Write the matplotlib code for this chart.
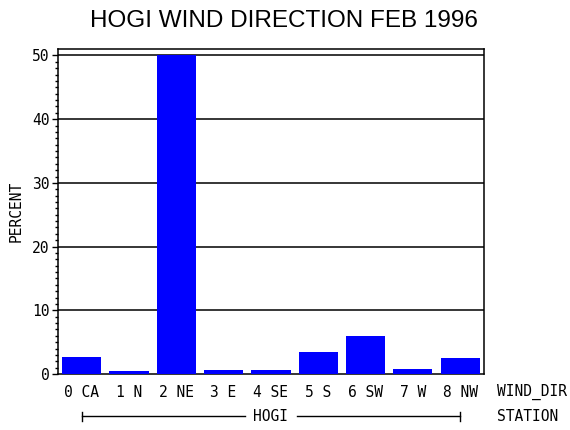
import numpy as np
import matplotlib
matplotlib.use("Agg")
import matplotlib.pyplot as plt
import matplotlib.transforms as mtransforms

directions = ["0 CA", "1 N", "2 NE", "3 E", "4 SE", "5 S", "6 SW", "7 W", "8 NW"]
percent = [2.7, 0.5, 50.0, 0.6, 0.6, 3.5, 5.9, 0.8, 2.5]
station = "HOGI"
title = "HOGI WIND DIRECTION FEB 1996"

mono = "DejaVu Sans Mono"

fig = plt.figure(figsize=(5.7, 4.3), dpi=100)
ax = fig.add_axes([0.1018, 0.130, 0.747, 0.756])

x = np.arange(len(directions))
ax.bar(x, percent, width=0.83, color="#0000ff", zorder=3)

for y in [10, 20, 30, 40, 50]:
    ax.axhline(y, color="black", linewidth=1.1, zorder=1)

ax.set_xlim(-0.5, len(directions) - 0.5)
ax.set_ylim(0, 51)
ax.set_yticks([0, 10, 20, 30, 40, 50])
ax.set_yticks(np.arange(0, 51, 1), minor=True)
ax.tick_params(axis="y", which="major", length=4, width=1, direction="out",
               labelsize=10.5, pad=2)
ax.tick_params(axis="y", which="minor", length=2, width=1, direction="out")
for lab in ax.get_yticklabels():
    lab.set_family(mono)

ax.set_xticks(x)
ax.set_xticklabels(directions, family=mono, fontsize=10.5)
ax.tick_params(axis="x", length=0, pad=8)

for s in ax.spines.values():
    s.set_linewidth(1.1)

ax.set_ylabel("PERCENT", family=mono, fontsize=10.5, labelpad=6)

trans = mtransforms.blended_transform_factory(ax.transData, ax.transAxes)
ax.text(1.03, -0.055, "WIND_DIR", transform=ax.transAxes, family=mono,
        fontsize=10.5, va="center", ha="left")
ax.text(1.03, -0.13, "STATION", transform=ax.transAxes, family=mono,
        fontsize=10.5, va="center", ha="left")

# station bracket under the direction labels
yb = -0.13
mid = (x[0] + x[-1]) / 2
ax.plot([x[0], mid - 0.55], [yb, yb], color="black", lw=1, transform=trans, clip_on=False)
ax.plot([mid + 0.55, x[-1]], [yb, yb], color="black", lw=1, transform=trans, clip_on=False)
for xe in [x[0], x[-1]]:
    ax.plot([xe, xe], [yb - 0.013, yb + 0.013], color="black", lw=1,
            transform=trans, clip_on=False)
ax.text(mid, yb, station, transform=trans, family=mono, fontsize=10.5,
        ha="center", va="center")

fig.text(0.498, 0.952, title, family="Liberation Sans", fontsize=17.5,
         ha="center", va="center")

fig.savefig("out.png", dpi=100)
